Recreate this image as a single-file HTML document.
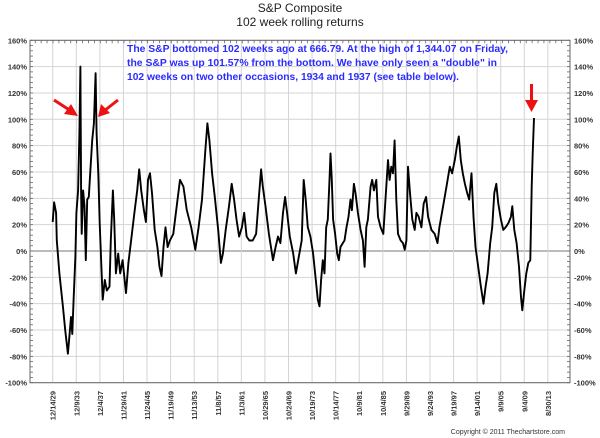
<!DOCTYPE html>
<html><head><meta charset="utf-8"><style>
html,body{margin:0;padding:0;background:#fff;}
svg{display:block;font-family:"Liberation Sans",sans-serif;}
</style></head><body>
<svg id="chart" width="600" height="438" viewBox="0 0 600 438" xmlns="http://www.w3.org/2000/svg">
<text x="300" y="12" text-anchor="middle" font-size="12" fill="#222">S&amp;P Composite</text>
<text x="300" y="26" text-anchor="middle" font-size="12" fill="#222">102 week rolling returns</text>
<g id="grid"></g>
<g id="series"></g>
<rect x="30" y="40.3" width="540" height="342.4" fill="none" stroke="#666" stroke-width="1"/>
<g id="axes"></g>
<g font-size="10.5" font-weight="bold" fill="#2b2bff">
<text x="127" y="52" textLength="381" lengthAdjust="spacingAndGlyphs">The S&amp;P bottomed 102 weeks ago at 666.79.  At the high of 1,344.07 on Friday,</text>
<text x="127" y="66" textLength="370" lengthAdjust="spacingAndGlyphs">the S&amp;P was up 101.57% from the bottom.  We have only seen a "double" in</text>
<text x="127" y="80" textLength="332" lengthAdjust="spacingAndGlyphs">102 weeks on two other occasions, 1934 and 1937 (see table below).</text>
</g>
<g stroke="#ee1111" fill="#ee1111">
<line x1="54" y1="100" x2="71" y2="111" stroke-width="3"/>
<polygon points="78,116 64,114 71,104" stroke="none"/>
<line x1="118" y1="100" x2="104" y2="111" stroke-width="3"/>
<polygon points="98,117 101,104 110,113" stroke="none"/>
<line x1="531.5" y1="84" x2="531.5" y2="102" stroke-width="3"/>
<polygon points="531.5,112 525,100 538,100" stroke="none"/>
</g>
<text x="565" y="434" text-anchor="end" font-size="7" fill="#333">Copyright © 2011 Thechartstore.com</text>
</svg>
<script>
const years = [1929.95,1930.18,1930.52,1930.64,1931.09,1931.32,1931.67,1932.07,1932.52,1932.81,1933.04,1933.26,1933.49,1933.78,1933.95,1934.24,1934.46,1934.64,1934.75,1934.86,1935.09,1935.32,1935.55,1935.78,1936.06,1936.35,1936.63,1936.92,1937.20,1937.38,1937.66,1937.89,1938.18,1938.40,1938.75,1939.09,1939.55,1939.77,1940.12,1940.35,1940.63,1941.03,1941.37,1941.77,1942.34,1942.74,1943.20,1943.77,1944.23,1944.57,1944.91,1945.37,1945.71,1946.06,1946.40,1946.74,1947.20,1947.65,1948.00,1948.34,1948.68,1949.02,1949.37,1949.77,1950.34,1950.91,1951.48,1952.05,1952.62,1953.36,1954.05,1954.62,1955.19,1955.76,1956.10,1956.45,1956.90,1957.36,1957.93,1958.39,1958.73,1959.19,1959.76,1960.22,1960.62,1961.02,1961.47,1961.93,1962.33,1962.73,1963.19,1963.76,1964.33,1964.78,1965.18,1965.47,1965.93,1966.50,1967.19,1967.64,1968.04,1968.44,1968.89,1969.24,1969.58,1970.04,1970.61,1971.06,1971.46,1972.04,1972.39,1972.73,1973.07,1973.52,1973.97,1974.43,1974.77,1975.05,1975.33,1975.61,1975.90,1976.18,1976.46,1976.74,1976.91,1977.14,1977.36,1977.70,1978.04,1978.32,1978.61,1979.00,1979.29,1979.62,1979.96,1980.30,1980.53,1980.87,1981.15,1981.55,1982.00,1982.39,1982.68,1982.96,1983.24,1983.69,1983.97,1984.26,1984.65,1984.94,1985.39,1985.84,1986.35,1986.63,1986.91,1987.20,1987.48,1987.76,1988.04,1988.33,1988.78,1989.17,1989.46,1989.74,1990.02,1990.36,1990.75,1991.15,1991.43,1991.83,1992.28,1992.68,1993.07,1993.41,1993.98,1994.54,1995.00,1995.33,1995.95,1996.52,1997.08,1997.48,1997.93,1998.27,1998.61,1998.95,1999.29,1999.63,2000.02,2000.36,2000.76,2001.09,2001.43,2001.89,2002.34,2002.79,2003.13,2003.47,2003.92,2004.26,2004.60,2004.94,2005.28,2005.73,2006.13,2006.52,2006.97,2007.42,2007.65,2007.99,2008.38,2008.78,2009.12,2009.34,2009.68,2010.02,2010.36,2010.70,2010.93,2011.10,2011.32];
const returns = [22,37,29,8,-17,-27,-42,-60,-78,-63,-50,-63,-37,-4,29,46,89,140,46,13,46,34,-7,39,41,64,84,97,135,89,59,21,-12,-37,-22,-30,-27,8,46,24,-17,-2,-17,-7,-32,-9,8,29,46,62,46,31,22,54,59,44,16,3,-12,-19,3,18,3,8,13,34,54,49,31,18,1,18,39,77,97,84,59,41,16,-9,-2,16,34,51,39,24,11,18,29,11,8,8,13,39,62,49,34,13,-7,3,11,6,29,41,29,11,-2,-17,-7,8,54,39,18,11,-2,-22,-37,-42,-22,-7,-17,18,24,54,74,54,24,13,-2,-7,3,6,8,18,26,39,31,51,44,29,16,8,-12,18,24,49,54,46,54,26,18,13,49,69,54,64,59,84,39,13,8,6,1,8,64,44,24,16,29,26,18,36,41,26,16,13,6,18,34,49,64,59,69,79,87,69,59,51,44,39,59,26,3,-12,-27,-40,-27,-17,6,18,44,51,36,24,16,18,21,26,34,16,6,-12,-35,-45,-30,-17,-9,-7,49,74,101];
const yTicks = [160,140,120,100,80,60,40,20,0,-20,-40,-60,-80,-100];
const dateLabels = ["12/14/29","12/9/33","12/4/37","11/29/41","11/24/45","11/19/49","11/13/53","11/8/57","11/3/61","10/29/65","10/24/69","10/19/73","10/14/77","10/9/81","10/4/85","9/29/89","9/24/93","9/19/97","9/14/01","9/9/05","9/4/09","8/30/13"];
const dateYears = [1929.95,1933.94,1937.93,1941.91,1945.90,1949.88,1953.87,1957.86,1961.84,1965.83,1969.82,1973.80,1977.79,1981.77,1985.76,1989.75,1993.73,1997.72,2001.70,2005.69,2009.68,2013.66];

const NS="http://www.w3.org/2000/svg";
const X0=30, X1=570, Y0=40.3, Y1=382.7;
function xScale(yr){ return 52.7 + (yr-1929.95)*5.915; }
function yScale(v){ return 251 - v*1.317; }
const grid=document.getElementById('grid'), axes=document.getElementById('axes'), series=document.getElementById('series');
function mk(tag, attrs, parent){ const e=document.createElementNS(NS,tag); for(const k in attrs) e.setAttribute(k,attrs[k]); parent.appendChild(e); return e; }

yTicks.forEach(v=>{
  const y=yScale(v);
  const g=mk('line',{x1:X0,x2:X1,y1:y,y2:y,stroke:v===0?'#777':'#d4d4d4','stroke-width':1},grid);
  
  
  const tl=mk('text',{x:27,y:y+3,'text-anchor':'end','font-size':7.5,fill:'#333','font-weight':'bold'},axes);
  
  
  tl.textContent=v+'%';
  const tr=mk('text',{x:574,y:y+3,'font-size':7.5,fill:'#333','font-weight':'bold'},axes);
  
  
  tr.textContent=v+'%';
});
for(let v=-100; v<=160; v+=4){
  const y=yScale(v);
  const t1=mk('line',{x1:X0,x2:X0+3,y1:y,y2:y,stroke:'#666','stroke-width':0.8},axes);
  
  
  const t2=mk('line',{x1:X1-3,x2:X1,y1:y,y2:y,stroke:'#666','stroke-width':0.8},axes);
  
  
}
dateLabels.forEach((lab,i)=>{
  const x=xScale(dateYears[i]);
  const g=mk('line',{x1:x,x2:x,y1:Y0,y2:Y1,stroke:'#d4d4d4','stroke-width':1},grid);
  
  
  const t=mk('text',{x:0,y:0,'text-anchor':'end','font-size':7.5,fill:'#333','font-weight':'bold',transform:`translate(${x+3},${391}) rotate(-90)`},axes);
  
  
  t.textContent=lab;
});
for(let yr=1926; yr<=2016; yr+=1){
  const x=xScale(yr);
  if(x<X0||x>X1) continue;
  const t=mk('line',{x1:x,x2:x,y1:Y0,y2:Y0+3,stroke:'#666','stroke-width':0.8},axes);
  
  
}
const pts=years.map((yr,i)=>xScale(yr).toFixed(1)+','+yScale(returns[i]).toFixed(1)).join(' ');
const line=mk('polyline',{points:pts,fill:'none',stroke:'#000','stroke-width':1.9,'stroke-linejoin':'round'},series);


</script>
</body></html>
